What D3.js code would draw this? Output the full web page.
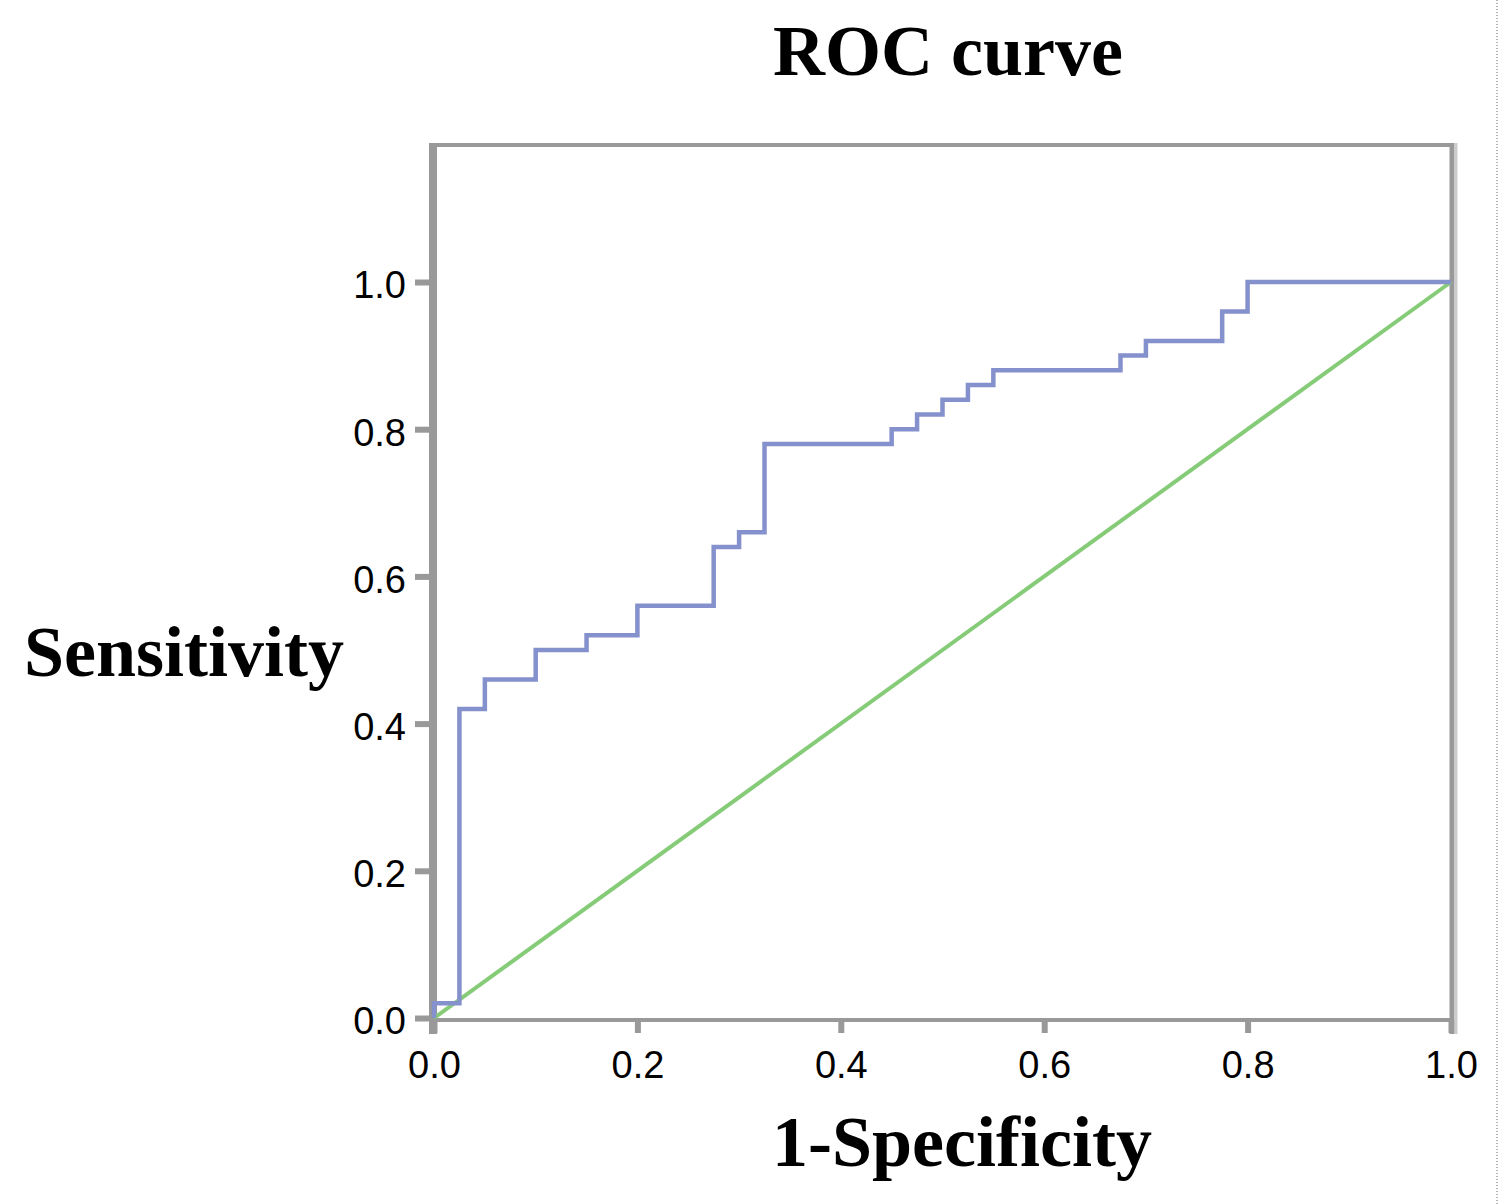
<!DOCTYPE html>
<html>
<head>
<meta charset="utf-8">
<script src="https://cdn.jsdelivr.net/npm/d3@7"></script>
<style>
  body { margin: 0; background: #fff; }
  svg { display: block; }
</style>
</head>
<body>
<div id="chart"></div>
<script>
var width = 1500;
var height = 1204;

// ROC corner points (1-specificity, sensitivity), drawn as steps
var fpr = [0, 0, 0.025, 0.05, 0.1, 0.15, 0.2, 0.275, 0.3, 0.325, 0.45, 0.475, 0.5, 0.525, 0.55, 0.675, 0.7, 0.775, 0.8, 1];
var tpr = [0, 0.02, 0.42, 0.46, 0.5, 0.52, 0.56, 0.64, 0.66, 0.78, 0.8, 0.82, 0.84, 0.86, 0.88, 0.9, 0.92, 0.96, 1, 1];

// reference line
var refX = [0, 1];
var refY = [0, 1];

var xTicks = [0, 0.2, 0.4, 0.6, 0.8, 1.0];
var yTicks = [0, 0.2, 0.4, 0.6, 0.8, 1.0];

var svg = d3.select('#chart').append('svg')
  .attr('width', width)
  .attr('height', height);

var xScale = d3.scaleLinear().domain([0, 1]).range([434, 1451]);
var yScale = d3.scaleLinear().domain([0, 1.1875]).range([1018, 144]);

var frameColor = '#999';

// axes with outward ticks
var xAxis = d3.axisBottom(xScale).tickValues(xTicks).tickFormat(d3.format('.1f'))
  .tickSizeInner(13).tickSizeOuter(0).tickPadding(9);
var yAxis = d3.axisLeft(yScale).tickValues(yTicks).tickFormat(d3.format('.1f'))
  .tickSizeInner(18).tickSizeOuter(0).tickPadding(9);

var gx = svg.append('g').attr('transform', 'translate(0,1020)').call(xAxis);
var gy = svg.append('g').attr('transform', 'translate(433,0)').call(yAxis);

gx.select('.domain').remove();
gy.select('.domain').remove();

[gx, gy].forEach(function(g) {
  g.selectAll('line').attr('stroke', frameColor).attr('stroke-width', 6);
  g.selectAll('text')
    .attr('fill', '#000')
    .style('font-family', 'Liberation Sans, Arial, sans-serif')
    .style('font-size', '38px');
});
gx.selectAll('text').attr('dy', '0.95em');
gy.selectAll('text').attr('dy', '0.42em');

// frame
svg.append('line').attr('x1', 433).attr('x2', 1452).attr('y1', 145).attr('y2', 145)
  .attr('stroke', frameColor).attr('stroke-width', 4);
svg.append('line').attr('x1', 433).attr('x2', 1452).attr('y1', 1020).attr('y2', 1020)
  .attr('stroke', frameColor).attr('stroke-width', 4);
svg.append('line').attr('x1', 433).attr('x2', 433).attr('y1', 143).attr('y2', 1034)
  .attr('stroke', frameColor).attr('stroke-width', 8);
svg.append('line').attr('x1', 1452).attr('x2', 1452).attr('y1', 143).attr('y2', 1034)
  .attr('stroke', frameColor).attr('stroke-width', 5);
svg.append('line').attr('x1', 1456).attr('x2', 1456).attr('y1', 143).attr('y2', 1034)
  .attr('stroke', '#ccc').attr('stroke-width', 3);

// reference diagonal
var refLine = d3.line()
  .x(function(d) { return xScale(d[0]); })
  .y(function(d) { return yScale(d[1]); });

svg.append('path')
  .datum(d3.zip(refX, refY))
  .attr('d', refLine)
  .attr('fill', 'none')
  .attr('stroke', '#86cc78')
  .attr('stroke-width', 4);

// ROC step curve
var rocLine = d3.line()
  .x(function(d) { return xScale(d[0]); })
  .y(function(d) { return yScale(d[1]); })
  .curve(d3.curveStepAfter);

svg.append('path')
  .datum(d3.zip(fpr, tpr))
  .attr('d', rocLine)
  .attr('fill', 'none')
  .attr('stroke', '#8591cc')
  .attr('stroke-width', 4.5);

// titles
var serif = 'Liberation Serif, Times New Roman, serif';

svg.append('text')
  .attr('x', 948).attr('y', 75)
  .attr('text-anchor', 'middle')
  .style('font-family', serif).style('font-weight', 'bold').style('font-size', '72px')
  .text('ROC curve');

svg.append('text')
  .attr('x', 184).attr('y', 676)
  .attr('text-anchor', 'middle')
  .style('font-family', serif).style('font-weight', 'bold').style('font-size', '72px')
  .text('Sensitivity');

svg.append('text')
  .attr('x', 962).attr('y', 1166)
  .attr('text-anchor', 'middle')
  .style('font-family', serif).style('font-weight', 'bold').style('font-size', '72px')
  .text('1-Specificity');

// dotted page edge on the right
svg.append('line').attr('x1', 1497).attr('x2', 1497).attr('y1', 0).attr('y2', height)
  .attr('stroke', '#999').attr('stroke-width', 1.5).attr('stroke-dasharray', '1,2');
</script>
</body>
</html>
